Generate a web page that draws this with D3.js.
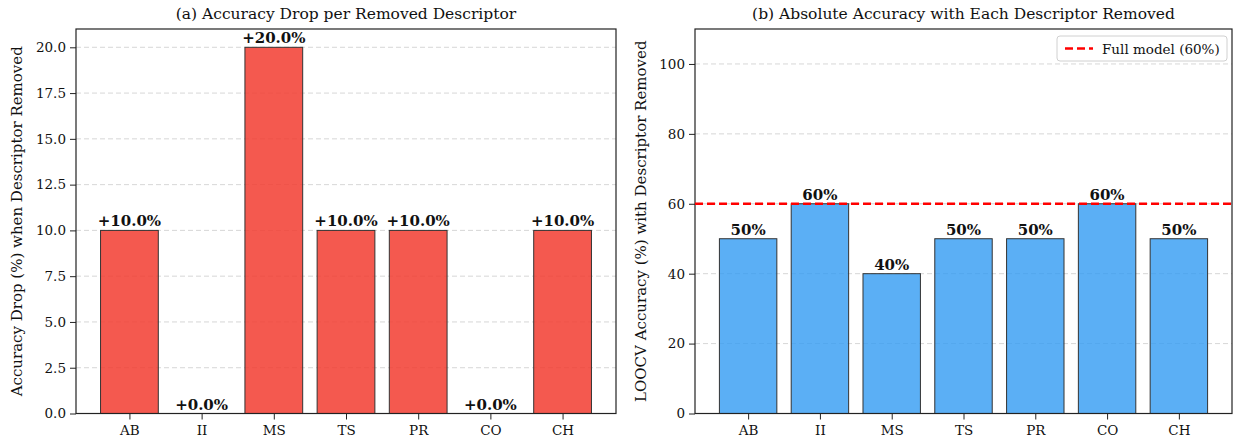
<!DOCTYPE html>
<html>
<head>
<meta charset="utf-8">
<script src="https://cdn.jsdelivr.net/npm/d3@7"></script>
<style>
  body { margin: 0; background: #fff; }
  svg text { font-family: "DejaVu Serif", serif; fill: #111; }
</style>
</head>
<body>
<svg id="chart" width="1241" height="444"></svg>
<script>
// data
const descriptors = ["AB", "II", "MS", "TS", "PR", "CO", "CH"];
const dropValues = [10, 0, 20, 10, 10, 0, 10];
const accuracyValues = [50, 60, 40, 50, 50, 60, 50];
const fullModelAcc = 60;
const dropTicks = [0, 2.5, 5, 7.5, 10, 12.5, 15, 17.5, 20];
const accTicks = [0, 20, 40, 60, 80, 100];

const $svg = d3.select("#chart");

function drawPanel({ left, right, top, bottom, yMax, ticks, tickFmt, values, labelFmt, color, title, yLabel, yLabelX }) {
    const x = d3.scaleLinear().domain([-0.74, descriptors.length - 1 + 0.74]).range([left, right]);
    const y = d3.scaleLinear().domain([0, yMax]).range([bottom, top]);
    const unit = x(1) - x(0);
    const g = $svg.append("g");

    // grid
    g.append("g").selectAll("line")
      .data(ticks)
      .join("line")
        .attr("x1", left).attr("x2", right)
        .attr("y1", d => y(d)).attr("y2", d => y(d))
        .attr("stroke", "#b0b0b0")
        .attr("stroke-opacity", 0.5)
        .attr("stroke-dasharray", "5,3")
        .attr("stroke-width", 1);

    // bars
    g.append("g").selectAll("rect")
      .data(values)
      .join("rect")
        .attr("x", (d, i) => x(i) - unit * 0.4)
        .attr("width", unit * 0.8)
        .attr("y", d => y(d))
        .attr("height", d => bottom - y(d))
        .attr("fill", color)
        .attr("stroke", "#333")
        .attr("stroke-width", 1);

    // bar labels
    g.append("g").selectAll("text")
      .data(values)
      .join("text")
        .attr("x", (d, i) => x(i))
        .attr("y", d => y(d) - 4)
        .attr("text-anchor", "middle")
        .attr("font-size", 15)
        .attr("font-weight", "bold")
        .text(labelFmt);

    // axes
    const yAxis = d3.axisLeft(y).tickValues(ticks).tickFormat(tickFmt).tickSize(6).tickPadding(4);
    const gy = g.append("g").attr("transform", `translate(${left},0)`).call(yAxis);
    gy.select(".domain").remove();
    gy.selectAll("text").attr("font-size", 13.5);
    gy.selectAll("line").attr("stroke", "#222");

    const xAxis = d3.axisBottom(x).tickValues(d3.range(descriptors.length))
      .tickFormat(i => descriptors[i]).tickSize(6).tickPadding(6);
    const gx = g.append("g").attr("transform", `translate(0,${bottom})`).call(xAxis);
    gx.select(".domain").remove();
    gx.selectAll("text").attr("font-size", 13.5);
    gx.selectAll("line").attr("stroke", "#222");

    // frame
    g.append("rect")
      .attr("x", left).attr("y", top)
      .attr("width", right - left).attr("height", bottom - top)
      .attr("fill", "none").attr("stroke", "#222").attr("stroke-width", 1.2);

    g.append("text")
      .attr("x", (left + right) / 2).attr("y", 19)
      .attr("text-anchor", "middle").attr("font-size", 15.5)
      .text(title);

    g.append("text")
      .attr("transform", `translate(${yLabelX},${(top + bottom) / 2}) rotate(-90)`)
      .attr("text-anchor", "middle").attr("font-size", 15)
      .text(yLabel);

    return { g, x, y };
}

drawPanel({
    left: 76, right: 616, top: 29, bottom: 413.5,
    yMax: 21, ticks: dropTicks, tickFmt: d3.format(".1f"),
    values: dropValues, labelFmt: d => `+${d.toFixed(1)}%`,
    color: "rgba(242,60,48,0.85)",
    title: "(a) Accuracy Drop per Removed Descriptor",
    yLabel: "Accuracy Drop (%) when Descriptor Removed", yLabelX: 22
});

const right = drawPanel({
    left: 695, right: 1232, top: 29, bottom: 413.5,
    yMax: 110, ticks: accTicks, tickFmt: d3.format("d"),
    values: accuracyValues, labelFmt: d => `${d}%`,
    color: "rgba(50,155,243,0.8)",
    title: "(b) Absolute Accuracy with Each Descriptor Removed",
    yLabel: "LOOCV Accuracy (%) with Descriptor Removed", yLabelX: 646
});

// full model reference line
right.g.append("line")
  .attr("x1", 695).attr("x2", 1232)
  .attr("y1", right.y(fullModelAcc)).attr("y2", right.y(fullModelAcc))
  .attr("stroke", "#ff0000").attr("stroke-width", 2.5)
  .attr("stroke-dasharray", "8,4");

// legend
const lg = right.g.append("g").attr("transform", "translate(1057,36)");
lg.append("rect")
  .attr("width", 170).attr("height", 25).attr("rx", 3)
  .attr("fill", "#fff").attr("fill-opacity", 0.8)
  .attr("stroke", "#d0d0d0");
lg.append("line")
  .attr("x1", 8).attr("x2", 36).attr("y1", 12.5).attr("y2", 12.5)
  .attr("stroke", "#ff0000").attr("stroke-width", 2.5)
  .attr("stroke-dasharray", "8,4");
lg.append("text")
  .attr("x", 45).attr("y", 17.5).attr("font-size", 13.5)
  .text(`Full model (${fullModelAcc}%)`);
</script>
</body>
</html>
